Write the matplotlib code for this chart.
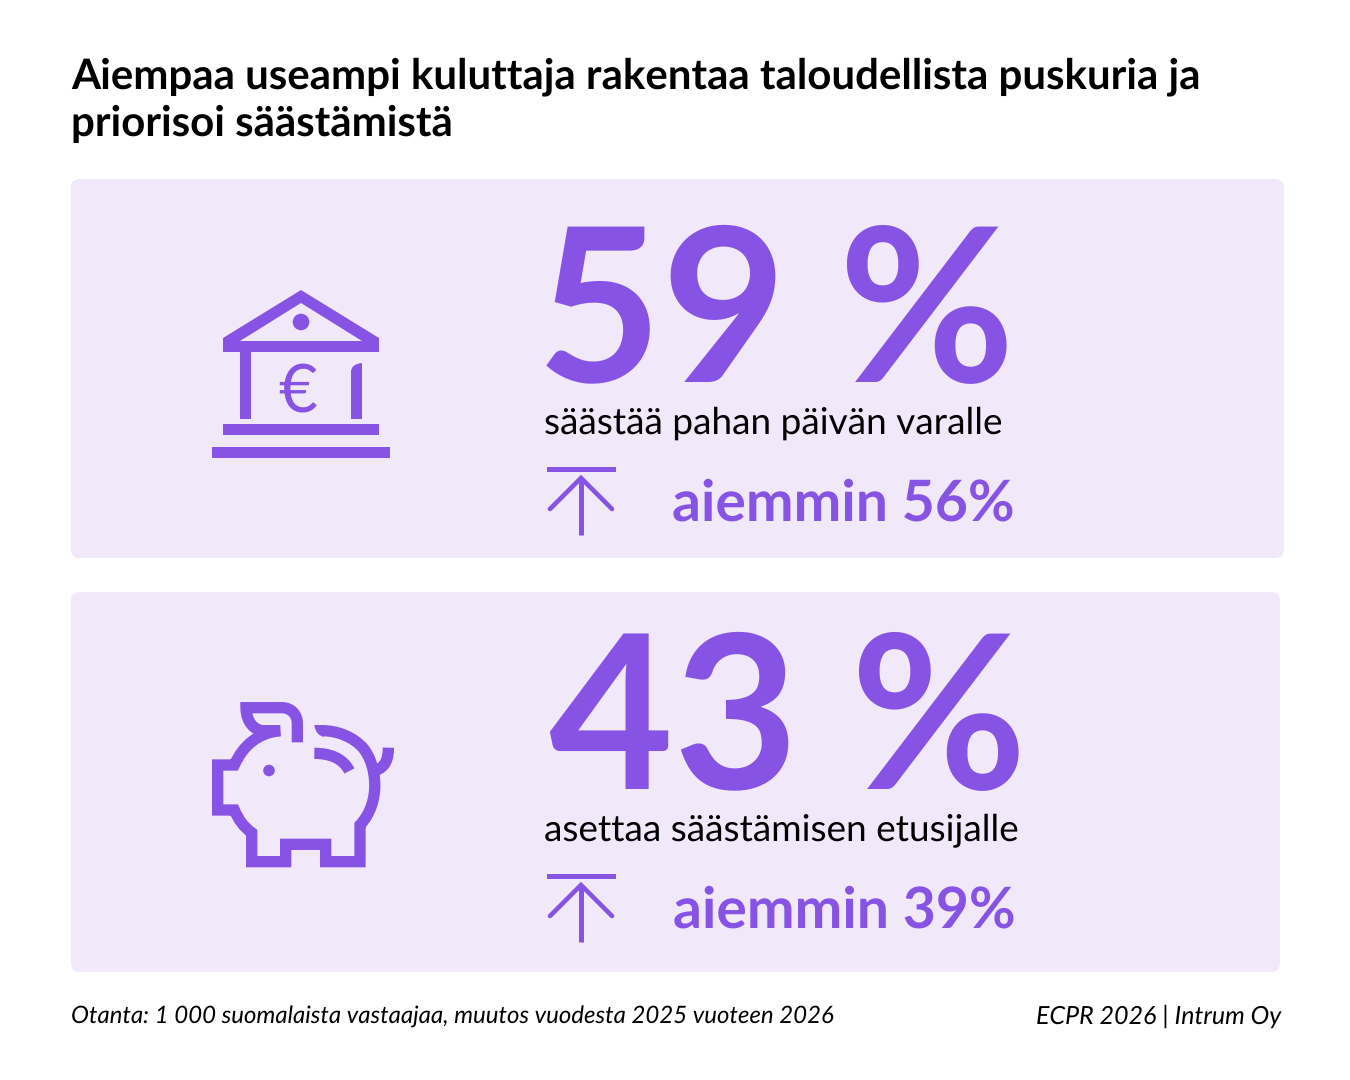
import matplotlib
matplotlib.use('Agg')
from matplotlib import pyplot as plt
from matplotlib.patches import FancyBboxPatch, PathPatch, Circle, Rectangle
from matplotlib.path import Path

title = ['Aiempaa useampi kuluttaja rakentaa taloudellista puskuria ja', 'priorisoi säästämistä']
shares = ['59 %', '43 %']
labels = ['säästää pahan päivän varalle', 'asettaa säästämisen etusijalle']
earlier = ['aiemmin 56%', 'aiemmin 39%']
source_left = 'Otanta: 1 000 suomalaista vastaajaa, muutos vuodesta 2025 vuoteen 2026'
source_right = 'ECPR 2026 | Intrum Oy'

PURPLE = '#8753E5'
PANEL = '#F1E8FA'
FONT = 'Lato'
LW = 72 / 100  # one pixel in points

plt.rcParams['font.family'] = [FONT, 'DejaVu Sans']
plt.rcParams['text.hinting'] = 'none'
plt.rcParams['text.hinting_factor'] = 1

fig = plt.figure(figsize=(13.5, 10.8), dpi=100)
ax = fig.add_axes([0, 0, 1, 1])
ax.set_xlim(0, 1350)
ax.set_ylim(1080, 0)
ax.axis('off')


def panel(x0, y0, x1, y1):
    ax.add_patch(FancyBboxPatch((x0 + 9, y0 + 9), x1 - x0 - 18, y1 - y0 - 18,
                                boxstyle='round,pad=9,rounding_size=9',
                                fc=PANEL, ec='none'))


def bank():
    # roof, with the triangle cut out
    verts = [(223, 338), (301, 290), (379, 338), (379, 352), (223, 352), (223, 338),
             (240, 341), (362, 341), (301, 303), (240, 341)]
    codes = [Path.MOVETO] + [Path.LINETO] * 4 + [Path.CLOSEPOLY,
                                                 Path.MOVETO, Path.LINETO, Path.LINETO, Path.CLOSEPOLY]
    ax.add_patch(PathPatch(Path(verts, codes), fc=PURPLE, ec='none'))
    ax.add_patch(Circle((301, 322), 8.3, fc=PURPLE, ec='none'))
    ax.add_patch(Rectangle((240, 352), 11, 67, fc=PURPLE, ec='none'))
    right = Path([(351, 419), (351, 372), (351, 364), (362, 363), (362, 419), (351, 419)],
                 [Path.MOVETO, Path.LINETO, Path.CURVE3, Path.CURVE3, Path.LINETO, Path.CLOSEPOLY])
    ax.add_patch(PathPatch(right, fc=PURPLE, ec='none'))
    ax.add_patch(Rectangle((223, 424), 156, 11, fc=PURPLE, ec='none'))
    ax.add_patch(Rectangle((212, 447), 178, 10.5, fc=PURPLE, ec='none'))
    ax.text(298, 412, '€', color=PURPLE, fontsize=48, ha='center', va='baseline')


def crop_xy(points):
    return [(190 + x / 3, 685 + y / 3) for x, y in points]


def stroke(points, codes):
    ax.add_patch(PathPatch(Path(crop_xy(points), codes), fc='none', ec=PURPLE, lw=11.3 * LW,
                           joinstyle='miter', capstyle='butt'))


def pig():
    M, L, C = Path.MOVETO, Path.LINETO, Path.CURVE4
    stroke([(271, 137), (205, 143), (160, 180), (133, 240), (83, 240), (83, 375), (133, 375),
            (145, 403), (160, 425), (185, 443), (185, 530), (287, 530), (287, 478), (407, 478),
            (407, 530), (510, 530), (510, 420), (575, 350), (560, 240), (520, 190),
            (490, 155), (440, 137), (398, 137)],
           [M, C, C, C, L, L, L, C, C, C, L, L, L, L, L, L, L, C, C, C, C, C, C])
    stroke([(271, 137), (215, 137), (180, 130), (168, 95), (168, 68), (275, 68),
            (305, 68), (322, 90), (322, 115), (322, 172)],
           [M, L, C, C, C, L, C, C, C, L])
    stroke([(373, 205), (420, 205), (460, 220), (478, 258)], [M, C, C, C])
    stroke([(595, 188), (595, 225), (585, 245), (560, 255)], [M, C, C, C])
    # tapered end of the back
    tip = Path(crop_xy([(400, 120), (373, 120), (376, 142), (388, 154), (402, 155), (400, 120)]),
               [M, L, C, C, C, Path.CLOSEPOLY])
    ax.add_patch(PathPatch(tip, fc=PURPLE, ec='none'))
    ax.add_patch(Circle((269, 770.5), 5.8, fc=PURPLE, ec='none'))


def arrow(dy):
    ax.add_patch(Rectangle((547, 467 + dy), 68.5, 4.8, fc=PURPLE, ec='none'))
    ax.plot([581, 581], [478 + dy, 535 + dy], color=PURPLE, lw=5 * LW, solid_capstyle='butt')
    ax.plot([550, 581, 612], [509 + dy, 478 + dy, 509 + dy], color=PURPLE, lw=4.6 * LW,
            solid_capstyle='round', solid_joinstyle='miter')


panel(71, 179, 1284, 558)
panel(71, 592, 1280, 972)
bank()
pig()
arrow(0)
arrow(407)

ax.text(71, 88, title[0], fontsize=30.33, fontweight='bold', color='black', va='baseline')
ax.text(71, 136, title[1], fontsize=30.33, fontweight='bold', color='black', va='baseline')

ax.text(537, 382, shares[0], fontsize=154.5, fontweight='bold', color=PURPLE, va='baseline')
ax.text(549, 789, shares[1], fontsize=154.5, fontweight='bold', color=PURPLE, va='baseline')
ax.text(544, 434, labels[0], fontsize=26.85, color='black', va='baseline')
ax.text(544, 840, labels[1], fontsize=26.85, color='black', va='baseline')
ax.text(672, 520, earlier[0], fontsize=41, fontweight='bold', color=PURPLE, va='baseline')
ax.text(673, 927, earlier[1], fontsize=41, fontweight='bold', color=PURPLE, va='baseline')

ax.text(71, 1024, source_left, fontsize=17, style='italic', color='black', va='baseline')
ax.text(1281, 1024, source_right, fontsize=17.65, style='italic', color='black', va='baseline', ha='right')

fig.savefig('out.png', dpi=100, facecolor='white')
